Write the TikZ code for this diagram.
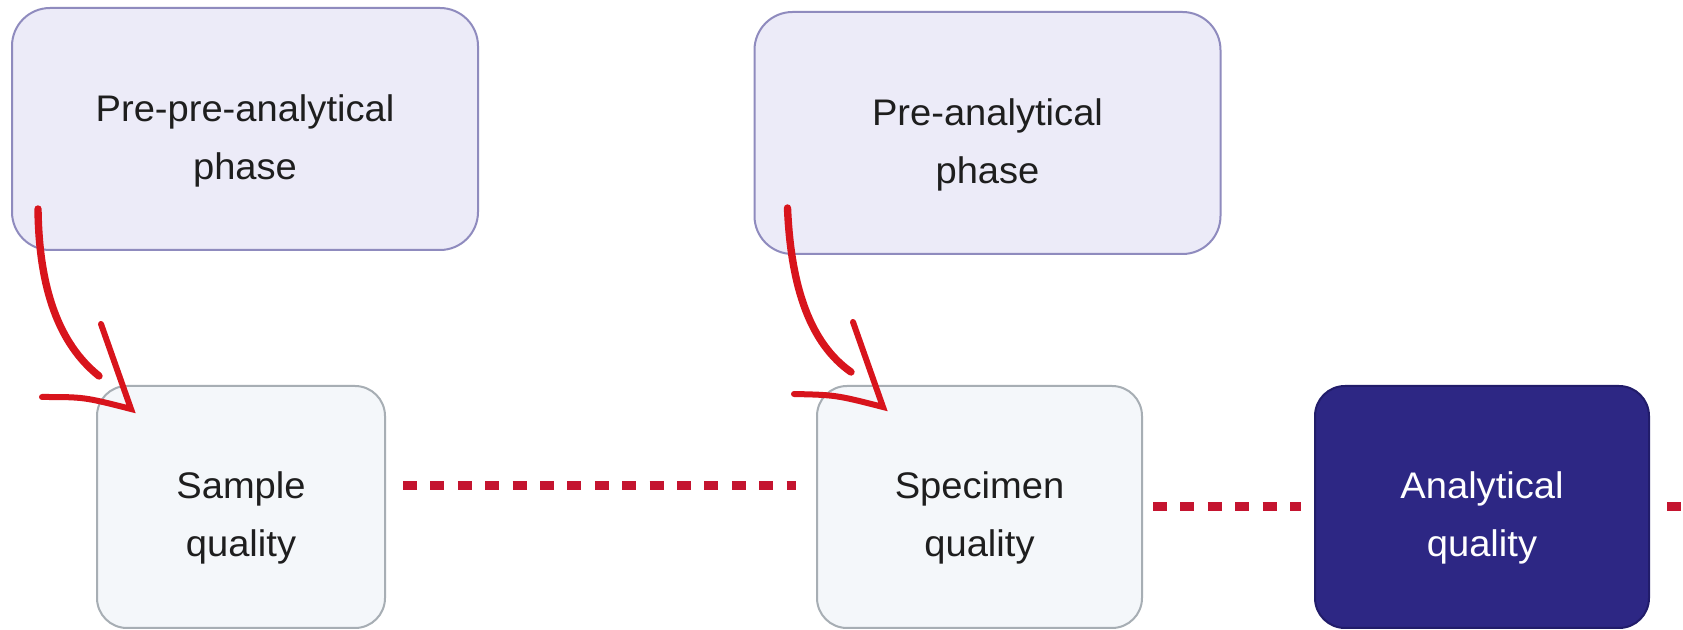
\documentclass[tikz,border=0pt]{standalone}
\usepackage{fontspec}
\setsansfont{Liberation Sans}[FakeStretch=1.03]
\usetikzlibrary{positioning,calc}
\definecolor{ink}{HTML}{1E1E1E}
\definecolor{phasefill}{HTML}{ECEBF8}
\definecolor{phaseedge}{HTML}{8F8BBE}
\definecolor{qualfill}{HTML}{F4F7FA}
\definecolor{qualedge}{HTML}{A7AEB4}
\definecolor{indigo}{HTML}{2D2784}
\definecolor{indigoedge}{HTML}{211C6A}
\definecolor{arrowred}{HTML}{D8141C}
\definecolor{dashred}{HTML}{C4142F}
\tikzset{
  every node/.style={font=\sffamily\fontsize{18.5pt}{29pt}\selectfont},
  box/.style={rounded corners=15pt, line width=1pt, align=center, minimum height=121pt, inner sep=0pt, text=ink},
  lowtext/.style={execute at begin node={\rule{0pt}{#1}}},
  phasebox/.style={box, lowtext=54pt, fill=phasefill, draw=phaseedge, rounded corners=19pt, minimum width=233pt},
  qualbox/.style={box, lowtext=53pt, fill=qualfill, draw=qualedge},
  anabox/.style={box, lowtext=53pt, fill=indigo, draw=indigoedge, text=white},
  curvearrow/.style={draw=arrowred, line width=3.7pt, line cap=round},
  barb/.style={draw=arrowred, line width=3pt, line cap=round, line join=miter},
  dashline/.style={draw=dashred, line width=4.5pt, dash pattern=on 7pt off 6.7pt},
}
\begin{document}
\begin{tikzpicture}[x=0.5pt, y=-0.5pt]
\path[use as bounding box, fill=white] (0,0) rectangle (1683,630);
% phases
\node[phasebox] (pre1) at (245,129) {Pre-pre-analytical\\phase};
\node[phasebox] (pre2) at (987.5,133) {Pre-analytical\\phase};
% quality boxes
\node[qualbox, minimum width=144pt] (samp) at (241,507) {Sample\\quality};
\node[qualbox, minimum width=162.5pt, right=215pt of samp] (spec) {Specimen\\quality};
\node[anabox, minimum width=167pt, right=85.5pt of spec] (ana) {Analytical\\quality};
\coordinate (edge) at (1683,507);
% dotted links
\draw[dashline] ([shift={(17,-21)}]samp.east) -- ([shift={(-20,-21)}]spec.west);
\draw[dashline] ([shift={(10,0)}]spec.east) -- ([shift={(-13,0)}]ana.west);
\draw[dashline] ([shift={(17,0)}]ana.east) -- (edge);
% curved arrows
\draw[curvearrow] ([shift={(27,-42)}]pre1.south west) .. controls ([shift={(-57,-96)}]samp.north west) and ([shift={(-37,-41)}]samp.north west) .. ([shift={(3,-9)}]samp.north west);
\draw[barb] ([shift={(5,-61)}]samp.north west) -- ([shift={(35,24)}]samp.north west) .. controls ([shift={(-12,12)}]samp.north west) .. ([shift={(-54,12)}]samp.north west);
\draw[curvearrow] ([shift={(34,-47)}]pre2.south west) .. controls ([shift={(-25,-96)}]spec.north west) and ([shift={(-5,-41)}]spec.north west) .. ([shift={(35,-13)}]spec.north west);
\draw[barb] ([shift={(37,-63)}]spec.north west) -- ([shift={(67,22)}]spec.north west) .. controls ([shift={(20,10)}]spec.north west) .. ([shift={(-22,9)}]spec.north west);
\end{tikzpicture}
\end{document}
